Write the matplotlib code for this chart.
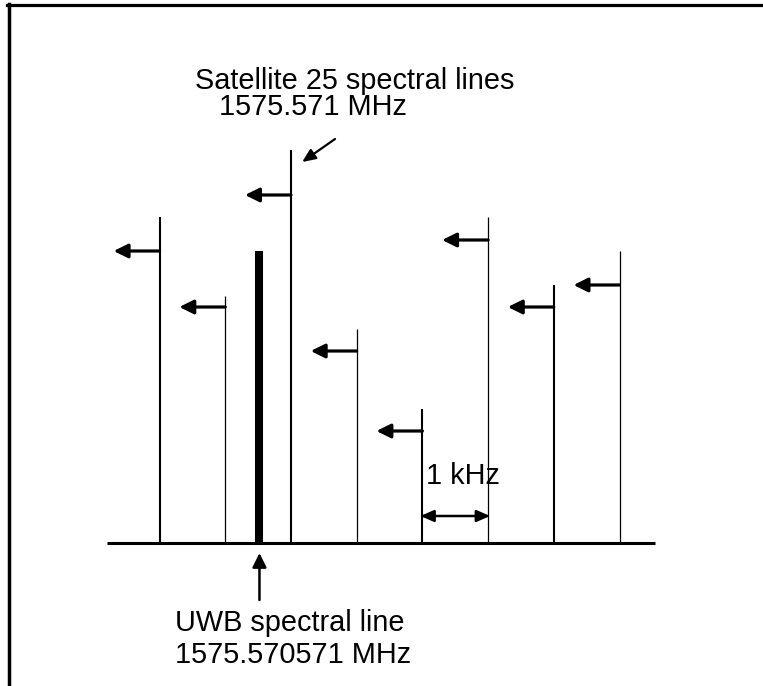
import matplotlib
matplotlib.use('Agg')
import matplotlib.pyplot as plt
from matplotlib.lines import Line2D

plt.rcParams['font.family'] = ['Liberation Sans', 'DejaVu Sans']

# satellite spectral lines, offset in kHz from 1575.571 MHz, and their heights
sat_khz = [-2, -1, 0, 1, 2, 3, 4, 5]
sat_height = [3.26, 2.47, 3.93, 2.14, 1.34, 3.26, 2.58, 2.92]
sat_lw = [1.5, 0.9, 1.5, 0.9, 1.5, 0.9, 1.5, 0.9]
# doppler shift arrows: height on each line, shift in kHz
shift_height = [2.92, 2.36, 3.48, 1.92, 1.12, 3.03, 2.36, 2.58]
shift_khz = 0.7
# UWB line
uwb_khz = -0.48
uwb_height = 2.92

FS = 20.8

fig = plt.figure(figsize=(7.63, 6.86), dpi=100)
ax = fig.add_axes([0, 0, 1, 1])
ax.set_xlim(-4.429, 7.184)
ax.set_ylim(-1.43, 5.43)
ax.axis('off')

# frame (top and left only)
fig.add_artist(Line2D([7 / 763, 1], [1 - 4.5 / 686, 1 - 4.5 / 686],
                      transform=fig.transFigure, color='black', lw=2.3))
fig.add_artist(Line2D([8.5 / 763, 8.5 / 763], [0, 1 - 3.5 / 686],
                      transform=fig.transFigure, color='black', lw=2.5))

# frequency axis
ax.hlines(0, -2.80, 5.54, color='black', lw=2.2)

ax.vlines(sat_khz, 0, sat_height, color='black', lw=sat_lw)
ax.vlines(uwb_khz, 0, uwb_height, color='black', lw=5.8)

head = '-|>,head_length=0.85,head_width=0.42'
for k, h in zip(sat_khz, shift_height):
    ax.annotate('', xy=(k - shift_khz, h), xytext=(k, h),
                arrowprops=dict(arrowstyle=head, color='black', lw=2.3,
                                mutation_scale=10, shrinkA=0, shrinkB=0))

# pointer to satellite line
ax.annotate('', xy=(0.17, 3.81), xytext=(0.67, 4.04),
            arrowprops=dict(arrowstyle='-|>,head_length=0.8,head_width=0.35',
                            color='black', lw=1.6, mutation_scale=10,
                            shrinkA=0, shrinkB=0))
ax.text(-1.46, 4.28, 'Satellite 25 spectral lines\n   1575.571 MHz',
        fontsize=FS, ha='left', va='baseline', linespacing=0.93)

# pointer to UWB line
ax.annotate('', xy=(uwb_khz, -0.10), xytext=(uwb_khz, -0.57),
            arrowprops=dict(arrowstyle=head, color='black', lw=1.8,
                            mutation_scale=10, shrinkA=0, shrinkB=0))
ax.text(-1.77, -0.88, 'UWB spectral line', fontsize=FS,
        ha='left', va='baseline')
ax.text(-1.77, -1.20, '1575.570571 MHz', fontsize=FS,
        ha='left', va='baseline')

# 1 kHz spacing
ax.annotate('', xy=(1.97, 0.27), xytext=(3.03, 0.27),
            arrowprops=dict(arrowstyle='<|-|>,head_length=0.8,head_width=0.35',
                            color='black', lw=1.8, mutation_scale=10,
                            shrinkA=0, shrinkB=0))
ax.text(2.05, 0.59, '1 kHz', fontsize=FS, ha='left', va='baseline')

fig.savefig('out.png', dpi=100, facecolor='white')
